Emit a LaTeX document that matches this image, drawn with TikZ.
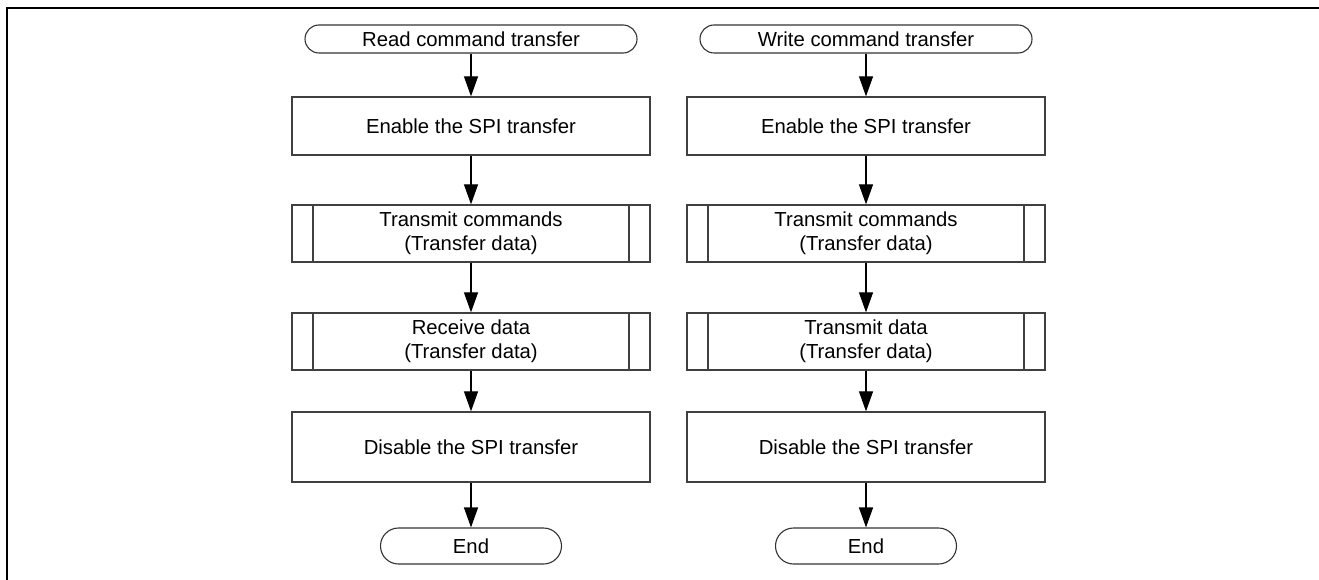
\documentclass[tikz,border=0pt]{standalone}
\usepackage{fontspec}
\setmainfont{Liberation Sans}
\usetikzlibrary{arrows.meta}
\tikzset{
  every node/.style={font=\fontsize{20.3}{24}\selectfont, align=center, inner sep=0pt},
  term/.style={draw=black!80, line width=1.1pt, rounded corners=#1, minimum height=2*#1},
  proc/.style={draw=black!75, line width=1.3pt, minimum width=358pt, minimum height=#1},
  subproc/.style={proc=57pt,
    path picture={\draw[black!75, line width=1.3pt]
      ([xshift=21pt]path picture bounding box.north west) -- ([xshift=21pt]path picture bounding box.south west)
      ([xshift=-21pt]path picture bounding box.north east) -- ([xshift=-21pt]path picture bounding box.south east);}},
  flow/.style={draw=black, line width=1.2pt, -{Triangle[length=20pt,width=14pt]}},
  frameline/.style={draw=black, line width=2.2pt}
}
\begin{document}
\begin{tikzpicture}[x=1pt,y=-1pt]
\useasboundingbox (0,0) rectangle (1319,580);
\draw[frameline] (7,581) -- (7,8) -- (1320,8);

% left column
\node[term=14pt, minimum width=332pt] (ls) at (471,39) {Read command transfer};
\node[proc=58pt] (le) at (471,126) {Enable the SPI transfer};
\node[subproc] (lt) at (471,233.5) {Transmit commands\\(Transfer data)};
\node[subproc] (lr) at (471,341.5) {Receive data\\(Transfer data)};
\node[proc=70pt] (ld) at (471,447) {Disable the SPI transfer};
\node[term=18pt, minimum width=181pt] (lend) at (471,546) {End};

% right column
\node[term=14pt, minimum width=332pt] (rs) at (866,39) {Write command transfer};
\node[proc=58pt] (re) at (866,126) {Enable the SPI transfer};
\node[subproc] (rt) at (866,233.5) {Transmit commands\\(Transfer data)};
\node[subproc] (rr) at (866,341.5) {Transmit data\\(Transfer data)};
\node[proc=70pt] (rd) at (866,447) {Disable the SPI transfer};
\node[term=18pt, minimum width=181pt] (rend) at (866,546) {End};

\foreach \a/\b in {ls/le,le/lt,lt/lr,lr/ld,ld/lend,rs/re,re/rt,rt/rr,rr/rd,rd/rend}
  \draw[flow] (\a.south) -- (\b.north);
\end{tikzpicture}
\end{document}
